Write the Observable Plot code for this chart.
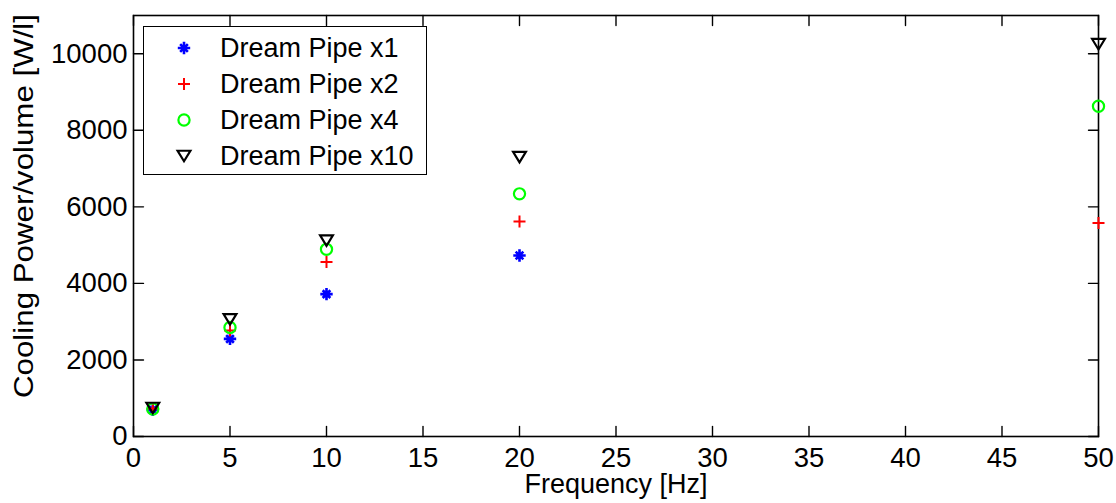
<!DOCTYPE html>
<html><head><meta charset="utf-8">
<script src="https://cdn.jsdelivr.net/npm/d3@7"></script>
<script src="https://cdn.jsdelivr.net/npm/@observablehq/plot@0.6"></script>
<style>
body{margin:0;background:#fff;}
#wrap{position:relative;width:1116px;height:503px;font-family:"Liberation Sans",Arial,sans-serif;}
#legend{position:absolute;left:143px;top:26px;width:284px;height:149px;box-sizing:border-box;border:1.6px solid #000;background:#fff;}
#legend svg{position:absolute;left:0;top:0;}
</style></head><body><div id="wrap"></div>
<script>
// ---- data ----
const frequency = [1, 5, 10, 20, 50];
const seriesNames = ["Dream Pipe x1", "Dream Pipe x2", "Dream Pipe x4", "Dream Pipe x10"];
const pipeX1  = [700, 2550, 3720, 4730, null];
const pipeX2  = [730, 2770, 4560, 5620, 5580];
const pipeX4  = [720, 2850, 4890, 6340, 8630];
const pipeX10 = [745, 3060, 5120, 7300, 10250];
const xTicks = [0, 5, 10, 15, 20, 25, 30, 35, 40, 45, 50];
const yTicks = [0, 2000, 4000, 6000, 8000, 10000];
const xLabel = "Frequency [Hz]";
const yLabel = "Cooling Power/volume [W/l]";

// ---- symbols (MATLAB-like) ----
const rad = s => Math.sqrt(s / Math.PI);
const starSym = {draw(c, s) { const r = rad(s), d = r * 0.62;
  c.moveTo(-r, 0); c.lineTo(r, 0); c.moveTo(0, -r); c.lineTo(0, r);
  c.moveTo(-d, -d); c.lineTo(d, d); c.moveTo(-d, d); c.lineTo(d, -d); }};
const plusSym = {draw(c, s) { const r = rad(s);
  c.moveTo(-r, 0); c.lineTo(r, 0); c.moveTo(0, -r); c.lineTo(0, r); }};
const circleSym = {draw(c, s) { const r = rad(s); c.moveTo(r, 0); c.arc(0, 0, r, 0, 2 * Math.PI); }};
const triDownSym = {draw(c, s) { const r = rad(s), h = r * 0.82;
  c.moveTo(-r, -h); c.lineTo(r, -h); c.lineTo(0, h); c.closePath(); }};

const styles = [
  {sym: starSym, color: "#0000ff", r: 6.2, sw: 2.6},
  {sym: plusSym, color: "#ff0000", r: 6, sw: 2},
  {sym: circleSym, color: "#00ff00", r: 5.6, sw: 2.2},
  {sym: triDownSym, color: "#000000", r: 6.4, sw: 2.2}
];
const seriesValues = [pipeX1, pipeX2, pipeX4, pipeX10];

const rows = [];
seriesNames.forEach((name, i) => frequency.forEach((f, j) => {
  if (seriesValues[i][j] != null) rows.push({series: name, frequency: f, power: seriesValues[i][j]});
}));

const tickShape = {draw(c, l) { c.moveTo(0, 0); c.lineTo(0, -l); }};
const tickOpts = {stroke: "#000", strokeWidth: 1.4, length: 10, anchor: "start", shape: tickShape};
const FONT = '"Liberation Sans", Arial, sans-serif';

const plot = Plot.plot({
  width: 1116, height: 503,
  marginLeft: 133, marginRight: 18, marginTop: 15, marginBottom: 67,
  style: {fontFamily: FONT, fontSize: "27.5px", color: "#000", background: "#fff"},
  x: {domain: [0, 50]},
  y: {domain: [0, 11000]},
  marks: [
    Plot.frame({stroke: "#000", strokeWidth: 1.6}),
    Plot.vector(xTicks, {x: d => d, frameAnchor: "bottom", rotate: 0, ...tickOpts}),
    Plot.vector(xTicks, {x: d => d, frameAnchor: "top", rotate: 180, ...tickOpts}),
    Plot.vector(yTicks, {y: d => d, frameAnchor: "left", rotate: 90, ...tickOpts}),
    Plot.vector(yTicks, {y: d => d, frameAnchor: "right", rotate: -90, ...tickOpts}),
    Plot.axisX({ticks: xTicks, tickSize: 0, tickPadding: 11, label: null, tickFormat: d => String(d)}),
    Plot.axisY({ticks: yTicks, tickSize: 0, tickPadding: 6, label: null, tickFormat: d => String(d)}),
    Plot.text([xLabel], {text: d => d, frameAnchor: "bottom", textAnchor: "middle", lineAnchor: "middle", dy: 47.5, fill: "#000", fontSize: 27, className: "xlab"}),
    Plot.text([yLabel], {text: d => d, frameAnchor: "left", textAnchor: "middle", lineAnchor: "middle", rotate: -90, dx: -109, dy: -20, fill: "#000", fontSize: 27, className: "ylab"}),
    ...seriesNames.map((name, i) => Plot.dot(rows.filter(d => d.series === name), {
      x: "frequency", y: "power", symbol: styles[i].sym, r: styles[i].r,
      stroke: styles[i].color, strokeWidth: styles[i].sw, fill: "none"
    }))
  ]
});

// stretch the y label to the reference's length
d3.select(plot).selectAll(".ylab text").attr("textLength", 384).attr("lengthAdjust", "spacingAndGlyphs");

const wrap = document.getElementById("wrap");
wrap.appendChild(plot);

// ---- legend (inside the axes, top-left) ----
const legend = document.createElement("div");
legend.id = "legend";
wrap.appendChild(legend);
const lsvg = d3.select(legend).append("svg").attr("width", 282).attr("height", 146);
seriesNames.forEach((name, i) => {
  const cy = 21 + i * 36;
  const p = d3.path();
  styles[i].sym.draw(p, Math.PI * styles[i].r * styles[i].r);
  lsvg.append("path").attr("d", p.toString()).attr("transform", `translate(40,${cy})`)
    .attr("fill", "none").attr("stroke", styles[i].color).attr("stroke-width", styles[i].sw);
  lsvg.append("text").attr("x", 76).attr("y", cy).attr("dy", "0.35em")
    .attr("font-family", FONT).attr("font-size", 27)
    .attr("fill", "#000").text(name);
});
</script>
</body></html>
